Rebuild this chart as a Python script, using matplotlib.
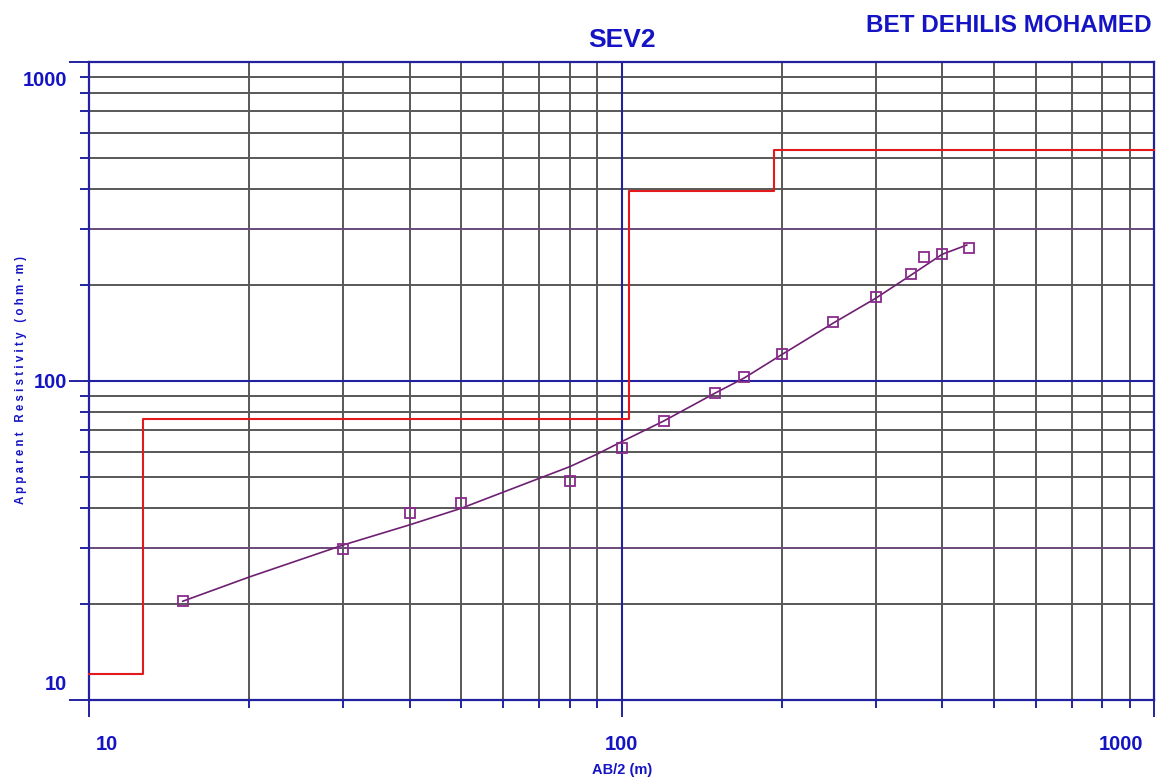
import matplotlib
matplotlib.use("Agg")
import matplotlib.pyplot as plt
import matplotlib.transforms as mtransforms
from matplotlib.ticker import FixedLocator, NullFormatter

# ---------------- data ----------------
ab2_obs = [15, 30, 40, 50, 80, 100, 120, 150, 170, 200, 250, 300, 350, 370, 400, 450]
rho_obs = [20.4, 29.7, 38.6, 41.5, 48.6, 61.7, 74.9, 91.7, 102.9, 121.5, 153, 183.4,
           216.5, 244.8, 250, 261]

ab2_fit = [15, 20, 30, 40, 50, 70, 80, 90, 100, 120, 150, 170, 200, 250, 300, 350, 400, 445]
rho_fit = [20.4, 24.3, 30.6, 35.4, 39.9, 49.5, 53.9, 59.0, 64.5, 74.9, 91.7, 102.2, 121.0,
           152.0, 181.6, 215.0, 249.5, 266.8]

# layered model (step curve): depth boundaries and layer resistivities
layer_bounds = [10, 12.65, 103.4, 193.6, 1000]
layer_rho = [12.06, 76.0, 394.0, 530.0]

x_tick_vals = [10, 100, 1000]
x_tick_labels = ["10", "100", "1000"]
y_tick_vals = [10, 100, 1000]
y_tick_labels = ["10", "100", "1000"]

title = "SEV2"
author = "BET DEHILIS MOHAMED"
xlabel = "AB/2 (m)"
ylabel = "A p p a r e n t   R e s i s t i v i t y   ( o h m · m )"

# ---------------- style ----------------
FONT = ["Liberation Sans", "DejaVu Sans"]

TXT = "#1414c4"
AXB = "#2222a0"
GRAY = "#585858"
RED = "#e3191c"
PURP = "#6e1f72"
MARK = "#8a2a8e"

W, H = 1160, 779
fig = plt.figure(figsize=(W / 100, H / 100), dpi=100)
ax = fig.add_axes([89 / W, 1 - 700 / H, 1065 / W, 638 / H])
ax.set_xscale("log")
ax.set_yscale("log")
ax.set_xlim(10, 1000)
ax.set_ylim(10, 1000)

# grid lines
minor_vals = [m * d for d in (10, 100) for m in range(2, 10)]
for v in minor_vals:
    ax.axvline(v, color=GRAY, lw=1.4, zorder=1)
for v in minor_vals:
    c = "#6a4a7c" if v in (30, 300) else GRAY
    ax.axhline(v, color=c, lw=1.4, zorder=1)
ax.axvline(100, color=AXB, lw=1.5, zorder=1.5)
ax.axhline(100, color=AXB, lw=1.5, zorder=1.5)

for s in ax.spines.values():
    s.set_color(AXB)
    s.set_linewidth(1.6)

ax.xaxis.set_major_locator(FixedLocator(x_tick_vals))
ax.xaxis.set_minor_locator(FixedLocator(minor_vals))
ax.yaxis.set_major_locator(FixedLocator(y_tick_vals))
ax.yaxis.set_minor_locator(FixedLocator(minor_vals))
ax.xaxis.set_minor_formatter(NullFormatter())
ax.yaxis.set_minor_formatter(NullFormatter())
ax.set_xticklabels(x_tick_labels)
ax.set_yticklabels(y_tick_labels)

ax.tick_params(axis="x", which="major", length=12, width=1.4, color=AXB, pad=13,
               labelsize=14.5, labelcolor=TXT)
ax.tick_params(axis="x", which="minor", length=6, width=1.4, color=AXB)
ax.tick_params(axis="y", which="major", length=14.5, width=1.4, color=AXB, pad=1.5,
               labelsize=14.5, labelcolor=TXT)
ax.tick_params(axis="y", which="minor", length=6.5, width=1.4, color=AXB)

for lab in ax.get_xticklabels() + ax.get_yticklabels():
    lab.set_family(FONT)
    lab.set_fontweight("bold")

for lab, dx in zip(ax.get_xticklabels(), [18, 0, -33]):
    lab.set_transform(lab.get_transform() +
                      mtransforms.ScaledTranslation(dx / 100, 0, fig.dpi_scale_trans))
for lab, dy in zip(ax.get_yticklabels(), [17, 0, -16.5]):
    lab.set_transform(lab.get_transform() +
                      mtransforms.ScaledTranslation(0, dy / 100, fig.dpi_scale_trans))

# model step curve
step_x, step_y = [], []
for i, r in enumerate(layer_rho):
    step_x += [layer_bounds[i], layer_bounds[i + 1]]
    step_y += [r, r]
ax.plot(step_x, step_y, color=RED, lw=1.5, zorder=3, clip_on=False)

# fitted curve + observations
ax.plot(ab2_fit, rho_fit, color=PURP, lw=1.2, zorder=4)
ax.plot(ab2_obs, rho_obs, ls="none", marker="s", ms=7.3, mfc="none", mec=MARK,
        mew=1.3, zorder=5)

# texts
fig.text(621.5 / W, 1 - 40 / H, title, ha="center", va="center", color=TXT,
         fontsize=19, fontweight="bold", family=FONT)
fig.text(1152 / W, 1 - 25 / H, author, ha="right", va="center", color=TXT,
         fontsize=17.5, fontweight="bold", family=FONT)
fig.text(622 / W, 1 - 770 / H, xlabel, ha="center", va="center", color=TXT,
         fontsize=10.5, fontweight="bold", family=FONT)
fig.text(21 / W, 1 - 380 / H, ylabel, ha="center", va="center", rotation=90,
         color=TXT, fontsize=8.3, fontweight="bold", family=FONT)

fig.savefig("out.png", dpi=100)
